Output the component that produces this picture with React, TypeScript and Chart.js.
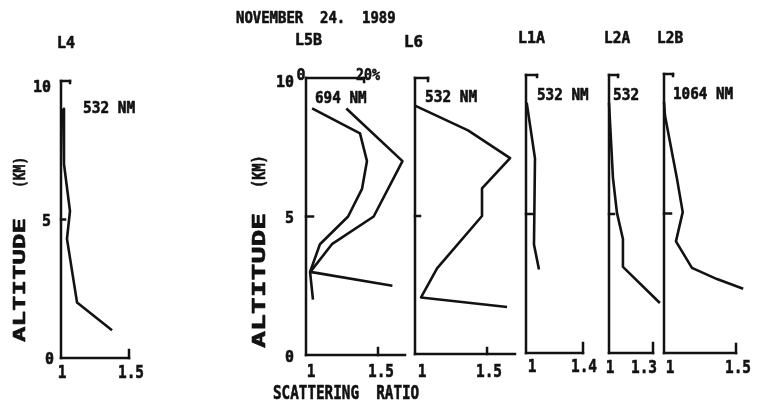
import React, { useEffect, useRef } from "react";
import { Chart, registerables } from "chart.js";

Chart.register(...registerables);

const W = 759;
const H = 414;
const INK = "#121212";
const MONO = '"DejaVu Sans Mono", "Liberation Mono", monospace';

// ---------- data (altitude in km, scattering ratio / depolarization %) ----------
const L4_ALT = [9, 7, 5.3, 4.3, 2, 1];
const L4_RATIO = [1.015, 1.022, 1.066, 1.044, 1.118, 1.375];

const L5B_RATIO_ALT = [8.9, 7, 5, 4, 3, 2.5];
const L5B_RATIO = [1.28, 1.67, 1.47, 1.18, 1.03, 1.6];
const L5B_DEPOL_ALT = [8.9, 8, 7, 6, 5, 4, 3, 2];
const L5B_DEPOL = [2.1, 18.6, 21, 19.3, 14.5, 4.8, 1.4, 2.4];

const L6_ALT = [9, 8.1, 7.1, 6, 5, 3.1, 2.05, 1.7];
const L6_RATIO = [1.0, 1.368, 1.66, 1.465, 1.465, 1.153, 1.042, 1.639];

const L1A_ALT = [9, 7, 3.9, 3];
const L1A_RATIO = [1.005, 1.063, 1.056, 1.091];

const L2A_ALT = [9, 6.3, 5.05, 4.1, 3.1, 1.8];
const L2A_RATIO = [1.0, 1.027, 1.054, 1.095, 1.095, 1.347];

const L2B_ALT = [9, 8.5, 6.25, 5.05, 4, 3.05, 2.65, 2.3];
const L2B_RATIO = [1.0, 1.007, 1.09, 1.13, 1.083, 1.194, 1.368, 1.55];

const ALT_MIN = 0;
const ALT_MAX = 10;
const ALT_MID_TICK = 5;
const DEPOL_TICK = 20;

// ---------- text helpers ----------
type Txt = {
  s: string;
  x: number;
  y: number;
  cap: number;
  adv: number;
  align?: "left" | "center" | "right";
  rot?: boolean;
};

function drawTxt(ctx: CanvasRenderingContext2D, t: Txt) {
  const size = t.cap / 0.729;
  ctx.save();
  ctx.font = `bold ${size.toFixed(2)}px ${MONO}`;
  ctx.fillStyle = INK;
  ctx.strokeStyle = INK;
  ctx.lineWidth = 0.6;
  ctx.lineJoin = "round";
  ctx.textBaseline = "alphabetic";
  ctx.textAlign = "left";
  const w = ctx.measureText(t.s).width;
  const total = t.adv * t.s.length;
  const sx = total / w;
  ctx.translate(t.x, t.y);
  if (t.rot) ctx.rotate(-Math.PI / 2);
  let off = 0;
  if (t.align === "center") off = -total / 2;
  else if (t.align === "right") off = -total;
  ctx.translate(off, 0);
  ctx.scale(sx, 1);
  ctx.fillText(t.s, 0, 0);
  ctx.strokeText(t.s, 0, 0);
  ctx.restore();
}

type Series = { alt: number[]; val: number[]; axis?: "x" | "x2" };
type Panel = {
  id: string;
  box: { l: number; r: number; t: number; b: number };
  xMax: number;
  x2Max?: number;
  xTick: number;
  xTickLen: number;
  yTickLen: number;
  bracket: number;
  bracketTick: number;
  series: Series[];
  texts: Txt[];
};

const GLOBAL_TEXTS: Txt[] = [
  { s: "NOVEMBER  24.  1989", x: 236, y: 23, cap: 11, adv: 8.4 },
  { s: "SCATTERING  RATIO", x: 273, y: 399, cap: 13.5, adv: 8.6 },
];

const PANELS: Panel[] = [
  {
    id: "L4",
    box: { l: 61, r: 129, t: 81, b: 358 },
    xMax: 1.5,
    xTick: 1.5,
    xTickLen: 8,
    yTickLen: 4,
    bracket: 9,
    bracketTick: 2,
    series: [{ alt: L4_ALT, val: L4_RATIO }],
    texts: [
      ...GLOBAL_TEXTS,
      { s: "L4", x: 57, y: 48, cap: 11, adv: 9 },
      { s: "532 NM", x: 83, y: 113, cap: 11, adv: 8.7 },
      { s: "10", x: 51, y: 92, cap: 12, adv: 9, align: "right" },
      { s: "5", x: 51, y: 226, cap: 12, adv: 9, align: "right" },
      { s: "0", x: 54, y: 364, cap: 12, adv: 9, align: "right" },
      { s: "1", x: 62, y: 378, cap: 13, adv: 8.7, align: "center" },
      { s: "1.5", x: 131, y: 378, cap: 13, adv: 8.7, align: "center" },
      { s: "ALTITUDE", x: 25, y: 342, cap: 12, adv: 15.5, rot: true },
      { s: "(KM)", x: 25, y: 188, cap: 12, adv: 7.8, rot: true },
    ],
  },
  {
    id: "L5B",
    box: { l: 306, r: 405, t: 78, b: 355 },
    xMax: 1.6875,
    x2Max: 34.1,
    xTick: 1.5,
    xTickLen: 7,
    yTickLen: 7,
    bracket: 0,
    bracketTick: 4,
    series: [
      { alt: L5B_RATIO_ALT, val: L5B_RATIO, axis: "x" },
      { alt: L5B_DEPOL_ALT, val: L5B_DEPOL, axis: "x2" },
    ],
    texts: [
      { s: "L5B", x: 295, y: 45, cap: 11, adv: 9 },
      { s: "694 NM", x: 315, y: 103, cap: 11, adv: 8.6 },
      { s: "0", x: 301, y: 80, cap: 12, adv: 9, align: "center" },
      { s: "20%", x: 368, y: 80, cap: 12, adv: 8, align: "center" },
      { s: "10", x: 294, y: 87, cap: 12, adv: 9, align: "right" },
      { s: "5", x: 294, y: 223, cap: 12, adv: 9, align: "right" },
      { s: "0", x: 294, y: 362, cap: 12, adv: 9, align: "right" },
      { s: "1", x: 311, y: 377, cap: 13, adv: 8.7, align: "center" },
      { s: "1.5", x: 381, y: 377, cap: 13, adv: 8.7, align: "center" },
      { s: "ALTITUDE", x: 265, y: 348, cap: 13, adv: 16.9, rot: true },
      { s: "(KM)", x: 265, y: 188, cap: 13, adv: 8.2, rot: true },
    ],
  },
  {
    id: "L6",
    box: { l: 415, r: 515, t: 78, b: 354 },
    xMax: 1.694,
    xTick: 1.5,
    xTickLen: 6,
    yTickLen: 5,
    bracket: 13,
    bracketTick: 3,
    series: [{ alt: L6_ALT, val: L6_RATIO }],
    texts: [
      { s: "L6", x: 404, y: 47, cap: 11, adv: 9.5 },
      { s: "532 NM", x: 425, y: 102, cap: 11, adv: 8.7 },
      { s: "1", x: 422, y: 377, cap: 13, adv: 8.7, align: "center" },
      { s: "1.5", x: 489, y: 377, cap: 13, adv: 8.7, align: "center" },
    ],
  },
  {
    id: "L1A",
    box: { l: 526, r: 583, t: 75, b: 353 },
    xMax: 1.4,
    xTick: 1.4,
    xTickLen: 10,
    yTickLen: 7,
    bracket: 11,
    bracketTick: 2,
    series: [{ alt: L1A_ALT, val: L1A_RATIO }],
    texts: [
      { s: "L1A", x: 518, y: 43, cap: 11, adv: 9 },
      { s: "532 NM", x: 537, y: 100, cap: 11, adv: 8.6 },
      { s: "1", x: 532, y: 372, cap: 13, adv: 8.7, align: "center" },
      { s: "1.4", x: 584, y: 372, cap: 13, adv: 8.7, align: "center" },
    ],
  },
  {
    id: "L2A",
    box: { l: 609, r: 653, t: 75, b: 353 },
    xMax: 1.3,
    xTick: 1.3,
    xTickLen: 10,
    yTickLen: 5,
    bracket: 9,
    bracketTick: 2,
    series: [{ alt: L2A_ALT, val: L2A_RATIO }],
    texts: [
      { s: "L2A", x: 604, y: 43, cap: 11, adv: 8.7 },
      { s: "532", x: 613, y: 100, cap: 11, adv: 8.7 },
      { s: "1", x: 610, y: 373, cap: 13, adv: 8.7, align: "center" },
      { s: "1.3", x: 644, y: 373, cap: 13, adv: 8.7, align: "center" },
    ],
  },
  {
    id: "L2B",
    box: { l: 664, r: 736, t: 74, b: 353 },
    xMax: 1.5,
    xTick: 1.5,
    xTickLen: 9,
    yTickLen: 7,
    bracket: 9,
    bracketTick: 2,
    series: [{ alt: L2B_ALT, val: L2B_RATIO }],
    texts: [
      { s: "L2B", x: 657, y: 43, cap: 11, adv: 8.7 },
      { s: "1064 NM", x: 673, y: 99, cap: 11, adv: 8.6 },
      { s: "1", x: 670, y: 373, cap: 13, adv: 8.7, align: "center" },
      { s: "1.5", x: 738, y: 373, cap: 13, adv: 8.7, align: "center" },
    ],
  },
];

function makeFramePlugin(p: Panel) {
  return {
    id: "panelFrame_" + p.id,
    afterDatasetsDraw(chart: any) {
      const ctx: CanvasRenderingContext2D = chart.ctx;
      const xs = chart.scales.x;
      const ys = chart.scales.y;
      const x0 = xs.getPixelForValue(1);
      const x1 = xs.getPixelForValue(p.xMax);
      const yTop = ys.getPixelForValue(ALT_MAX);
      const yBot = ys.getPixelForValue(ALT_MIN);
      const seg = (ax: number, ay: number, bx: number, by: number) => {
        ctx.beginPath();
        ctx.moveTo(ax, ay);
        ctx.lineTo(bx, by);
        ctx.stroke();
      };
      ctx.save();
      ctx.strokeStyle = INK;
      ctx.lineWidth = 2.5;
      ctx.lineCap = "square";
      // vertical altitude axis
      seg(x0, yTop, x0, yBot);
      // bottom scattering-ratio axis
      seg(x0, yBot, x1, yBot);
      const xt = xs.getPixelForValue(p.xTick);
      seg(xt, yBot, xt, yBot - p.xTickLen);
      // 5 km tick
      const y5 = ys.getPixelForValue(ALT_MID_TICK);
      seg(x0, y5, x0 + p.yTickLen, y5);
      // top bracket / depolarization axis
      const bx = chart.scales.x2 ? chart.scales.x2.getPixelForValue(DEPOL_TICK) : x0 + p.bracket;
      seg(x0, yTop, bx, yTop);
      seg(bx, yTop, bx, yTop + p.bracketTick);
      ctx.restore();
      p.texts.forEach((t) => drawTxt(ctx, t));
    },
  };
}

function PanelChart({ panel }: { panel: Panel }) {
  const ref = useRef<HTMLCanvasElement>(null);
  useEffect(() => {
    const canvas = ref.current;
    if (!canvas) return;
    const scales: any = {
      x: { type: "linear", min: 1, max: panel.xMax, display: false },
      y: { type: "linear", min: ALT_MIN, max: ALT_MAX, display: false },
    };
    if (panel.x2Max !== undefined) {
      scales.x2 = { type: "linear", position: "top", min: 0, max: panel.x2Max, display: false };
    }
    const chart = new Chart(canvas, {
      type: "scatter",
      data: {
        datasets: panel.series.map((s, i) => ({
          label: panel.id + "_" + i,
          data: s.alt.map((a, k) => ({ x: s.val[k], y: a })),
          xAxisID: s.axis || "x",
          yAxisID: "y",
          showLine: true,
          borderColor: INK,
          backgroundColor: INK,
          borderWidth: 2.6,
          borderJoinStyle: "round" as any,
          pointRadius: 0,
          tension: 0,
          clip: false as any,
        })),
      },
      options: {
        responsive: false,
        maintainAspectRatio: false,
        animation: false,
        events: [],
        layout: {
          padding: {
            left: panel.box.l,
            right: W - panel.box.r,
            top: panel.box.t,
            bottom: H - panel.box.b,
          },
        },
        scales,
        plugins: {
          legend: { display: false },
          tooltip: { enabled: false },
          title: { display: false },
        },
      },
      plugins: [makeFramePlugin(panel)],
    });
    return () => chart.destroy();
  }, [panel]);
  return (
    <canvas
      ref={ref}
      width={W}
      height={H}
      style={{ position: "absolute", left: 0, top: 0, width: W, height: H }}
    />
  );
}

export default function App() {
  return (
    <div
      style={{
        position: "fixed",
        left: 0,
        top: 0,
        width: W,
        height: H,
        background: "#ffffff",
        overflow: "hidden",
      }}
    >
      {PANELS.map((p) => (
        <PanelChart key={p.id} panel={p} />
      ))}
    </div>
  );
}
